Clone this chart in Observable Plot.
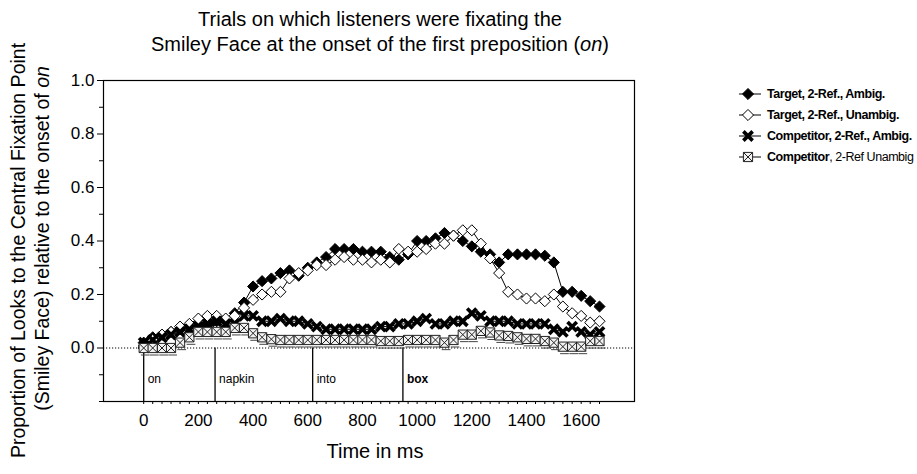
<!DOCTYPE html>
<html>
<head>
<meta charset="utf-8">
<script src="https://cdn.jsdelivr.net/npm/d3@7"></script>
<script src="https://cdn.jsdelivr.net/npm/@observablehq/plot@0.6"></script>
<style>
  body { margin: 0; background: #fff; }
  #wrap { position: relative; width: 917px; height: 474px; font-family: "Liberation Sans", Arial, sans-serif; color: #000; overflow: hidden; }
  #chart { position: absolute; left: 0; top: 0; }
  .title { position: absolute; left: 0; width: 760px; text-align: center; font-size: 20px; line-height: 23px; }
  .ylab { position: absolute; font-size: 19.5px; white-space: nowrap; transform-origin: center center; }
  .xlab { position: absolute; left: 275px; width: 200px; top: 440px; text-align: center; font-size: 20px; }
  #legend { position: absolute; left: 736px; top: 83px; font-size: 12.5px; letter-spacing: -0.45px; }
  #legend .row { height: 21px; display: flex; align-items: center; white-space: nowrap; }
  #legend svg { margin-right: 3px; }
</style>
</head>
<body>
<div id="wrap">
  <div id="chart"></div>
  <div class="title" style="top:8px">Trials on which listeners were fixating the</div>
  <div class="title" style="top:33px">Smiley Face at the onset of the first preposition (<i>on</i>)</div>
  <div class="ylab" id="yl1">Proportion of Looks to the Central Fixation Point</div>
  <div class="ylab" id="yl2">(Smiley Face) relative to the onset of <i>on</i></div>
  <div class="xlab">Time in ms</div>
  <div id="legend"></div>
</div>
<script>
// ---- data ----
const times = [0,33,67,100,133,167,200,233,267,300,333,367,400,433,467,500,533,567,600,633,667,700,733,767,800,833,867,900,933,967,1000,1033,1067,1100,1133,1167,1200,1233,1267,1300,1333,1367,1400,1433,1467,1500,1533,1567,1600,1633,1667];

const targetAmbig = [0.02,0.04,0.05,0.06,0.07,0.08,0.08,0.09,0.10,0.10,0.13,0.17,0.23,0.25,0.26,0.28,0.29,0.27,0.30,0.32,0.34,0.37,0.37,0.37,0.36,0.36,0.36,0.34,0.33,0.35,0.40,0.40,0.41,0.43,0.42,0.40,0.38,0.36,0.35,0.32,0.35,0.35,0.35,0.35,0.345,0.32,0.21,0.21,0.195,0.175,0.155];

const targetUnambig = [0.00,0.03,0.05,0.06,0.08,0.09,0.11,0.12,0.12,0.11,0.12,0.15,0.18,0.20,0.21,0.21,0.26,0.28,0.29,0.31,0.31,0.33,0.34,0.33,0.33,0.32,0.33,0.32,0.37,0.36,0.36,0.37,0.39,0.39,0.42,0.44,0.44,0.39,0.335,0.28,0.21,0.20,0.185,0.185,0.175,0.20,0.155,0.13,0.12,0.095,0.10];

const competitorAmbig = [0.02,0.03,0.04,0.05,0.06,0.07,0.08,0.09,0.10,0.09,0.09,0.12,0.12,0.10,0.10,0.11,0.10,0.10,0.09,0.08,0.07,0.07,0.07,0.07,0.07,0.07,0.08,0.08,0.09,0.09,0.10,0.11,0.09,0.09,0.10,0.10,0.13,0.12,0.10,0.10,0.10,0.09,0.09,0.09,0.09,0.07,0.06,0.08,0.06,0.05,0.06];

const competitorUnambig = [0.00,0.00,0.00,0.00,0.02,0.04,0.06,0.06,0.06,0.06,0.075,0.075,0.055,0.04,0.033,0.03,0.03,0.03,0.03,0.03,0.03,0.03,0.03,0.03,0.03,0.03,0.026,0.026,0.026,0.03,0.03,0.03,0.03,0.02,0.03,0.05,0.05,0.064,0.058,0.047,0.045,0.04,0.034,0.034,0.026,0.02,0.005,0.005,0.005,0.026,0.026];

const words = ["on", "napkin", "into", "box"];
const wordOnsets = [0, 261, 618, 948];
const wordBold = [false, false, false, true];

const yMajor = [0, 0.2, 0.4, 0.6, 0.8, 1.0];
const yMinor = [-0.2, -0.1, 0.1, 0.3, 0.5, 0.7, 0.9];
const xLabels = [0, 200, 400, 600, 800, 1000, 1200, 1400, 1600];

const seriesNames = ["Target, 2-Ref., Ambig.", "Target, 2-Ref., Unambig.", "Competitor, 2-Ref., Ambig.", "Competitor, 2-Ref Unambig"];

// ---- symbols ----
const boxX = {
  draw(ctx, size) {
    const r = Math.sqrt(size) / 2;
    ctx.moveTo(-r, -r); ctx.lineTo(r, -r); ctx.lineTo(r, r); ctx.lineTo(-r, r); ctx.closePath();
    ctx.moveTo(-r, -r); ctx.lineTo(r, r);
    ctx.moveTo(r, -r); ctx.lineTo(-r, r);
  }
};
const hline = {
  draw(ctx, size) {
    const r = Math.sqrt(size) / 2;
    ctx.moveTo(-r * 0.6, 0); ctx.lineTo(r * 1.3, 0);
  }
};

const mk = (vals) => times.map((t, i) => ({t, v: vals[i]}));
const dTA = mk(targetAmbig), dTU = mk(targetUnambig), dCA = mk(competitorAmbig), dCU = mk(competitorUnambig);
const wordData = words.map((w, i) => ({w, t: wordOnsets[i], b: wordBold[i]}));

const chart = Plot.plot({
  width: 917,
  height: 474,
  marginLeft: 103,
  marginRight: 283,
  marginTop: 80,
  marginBottom: 73,
  style: {fontFamily: '"Liberation Sans", Arial, sans-serif', fontSize: "16px", color: "#000", background: "transparent"},
  x: {domain: [-147, 1795]},
  y: {domain: [-0.2, 1.0]},
  marks: [
    Plot.ruleY([0], {stroke: "#000", strokeWidth: 1, strokeDasharray: "1.2,1.8"}),
    Plot.ruleX(wordData, {x: "t", y1: -0.2, y2: 0, stroke: "#000", strokeWidth: 1.3}),
    Plot.text(wordData.filter(d => !d.b), {x: "t", y: -0.115, text: "w", textAnchor: "start", dx: 4, fontSize: 12}),
    Plot.text(wordData.filter(d => d.b), {x: "t", y: -0.115, text: "w", textAnchor: "start", dx: 4, fontSize: 12, fontWeight: "bold"}),
    Plot.axisY({ticks: yMinor, tickSize: 4, tickFormat: () => "", label: null}),
    Plot.axisY({ticks: yMajor, tickSize: 6, tickPadding: 3, tickFormat: d3.format(".1f"), label: null, fontSize: 17}),
    Plot.axisX({ticks: times, tickSize: 3, tickFormat: () => "", label: null}),
    Plot.axisX({ticks: xLabels, tickSize: 0, tickPadding: 12, label: null, fontSize: 17, tickFormat: d => String(d)}),
    Plot.frame({stroke: "#000", strokeWidth: 1.2}),
    // connecting lines
    Plot.line(dTA, {x: "t", y: "v", stroke: "#000", strokeWidth: 1}),
    Plot.line(dTU, {x: "t", y: "v", stroke: "#000", strokeWidth: 1}),
    Plot.line(dCA, {x: "t", y: "v", stroke: "#000", strokeWidth: 1}),
    Plot.line(dCU, {x: "t", y: "v", stroke: "#000", strokeWidth: 1}),
    // markers
    Plot.dot(dTA, {x: "t", y: "v", symbol: "diamond2", r: 5, fill: "#000", stroke: "#000", strokeWidth: 1}),
    Plot.dot(dTU, {x: "t", y: "v", symbol: "diamond2", r: 5, fill: "#fff", stroke: "#000", strokeWidth: 1}),
    Plot.dot(dCA, {x: "t", y: "v", symbol: "times", r: 4.3, fill: "none", stroke: "#000", strokeWidth: 3.6}),
    Plot.dot(dCU, {x: "t", y: "v", symbol: hline, r: 5.2, fill: "none", stroke: "#444", strokeWidth: 1, dy: 7}),
    Plot.dot(dCU, {x: "t", y: "v", symbol: boxX, r: 5.2, fill: "#f2f2f2", stroke: "#222", strokeWidth: 1})
  ]
});
document.getElementById("chart").appendChild(chart);

// y label placement (rotated)
function placeY(id, cx, cy) {
  const el = document.getElementById(id);
  const w = el.offsetWidth, h = el.offsetHeight;
  el.style.left = (cx - w / 2) + "px";
  el.style.top = (cy - h / 2) + "px";
  el.style.transform = "rotate(-90deg)";
}
placeY("yl1", 18, 250);
placeY("yl2", 42, 238);

// legend
const legend = d3.select("#legend");
const legSyms = [
  {sym: d3.symbolDiamond2, size: Math.PI * 25, fill: "#000", stroke: "#000", sw: 1},
  {sym: d3.symbolDiamond2, size: Math.PI * 25, fill: "#fff", stroke: "#000", sw: 1},
  {sym: d3.symbolTimes, size: Math.PI * 4.3 * 4.3, fill: "none", stroke: "#000", sw: 3.6},
  {sym: boxX, size: Math.PI * 5.2 * 5.2, fill: "#f2f2f2", stroke: "#222", sw: 1}
];
seriesNames.forEach((name, i) => {
  const row = legend.append("div").attr("class", "row");
  const svg = row.append("svg").attr("width", 28).attr("height", 16);
  svg.append("line").attr("x1", 3).attr("x2", 25).attr("y1", 8).attr("y2", 8).attr("stroke", "#000");
  svg.append("path").attr("transform", "translate(12,8)")
    .attr("d", d3.symbol(legSyms[i].sym, legSyms[i].size)())
    .attr("fill", legSyms[i].fill).attr("stroke", legSyms[i].stroke).attr("stroke-width", legSyms[i].sw);
  const span = row.append("span");
  if (i < 3) {
    span.style("font-weight", "bold").text(name);
  } else {
    span.append("b").text("Competitor");
    span.append("span").text(", 2-Ref Unambig");
  }
});
</script>
</body>
</html>
